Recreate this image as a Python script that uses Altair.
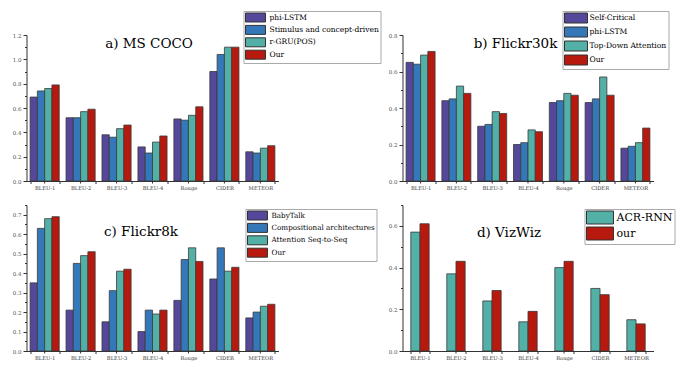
import altair as alt
import pandas as pd

metrics = ["BLEU-1", "BLEU-2", "BLEU-3", "BLEU-4", "Rouge", "CIDER", "METEOR"]

# a) MS COCO
coco_series = ["phi-LSTM", "Stimulus and concept-driven", "r-GRU(POS)", "Our"]
coco_phi = [0.69, 0.52, 0.38, 0.28, 0.51, 0.90, 0.24]
coco_stim = [0.74, 0.52, 0.36, 0.23, 0.50, 1.04, 0.23]
coco_rgru = [0.76, 0.57, 0.43, 0.32, 0.54, 1.10, 0.27]
coco_our = [0.79, 0.59, 0.46, 0.37, 0.61, 1.10, 0.29]

# b) Flickr30k
f30_series = ["Self-Critical", "phi-LSTM", "Top-Down Attention", "Our"]
f30_sc = [0.65, 0.44, 0.30, 0.20, 0.43, 0.43, 0.18]
f30_phi = [0.64, 0.45, 0.31, 0.21, 0.44, 0.45, 0.19]
f30_td = [0.69, 0.52, 0.38, 0.28, 0.48, 0.57, 0.21]
f30_our = [0.71, 0.48, 0.37, 0.27, 0.47, 0.47, 0.29]

# c) Flickr8k
f8_series = ["BabyTalk", "Compositional architectures", "Attention Seq-to-Seq", "Our"]
f8_baby = [0.35, 0.21, 0.15, 0.10, 0.26, 0.37, 0.17]
f8_comp = [0.63, 0.45, 0.31, 0.21, 0.47, 0.53, 0.20]
f8_att = [0.68, 0.49, 0.41, 0.19, 0.53, 0.41, 0.23]
f8_our = [0.69, 0.51, 0.42, 0.21, 0.46, 0.43, 0.24]

# d) VizWiz
viz_series = ["ACR-RNN", "our"]
viz_acr = [0.57, 0.37, 0.24, 0.14, 0.40, 0.30, 0.15]
viz_our = [0.61, 0.43, 0.29, 0.19, 0.43, 0.27, 0.13]

titles = ["a) MS COCO", "b) Flickr30k", "c) Flickr8k", "d) VizWiz"]

PURPLE, BLUE, TEAL, RED = "#55479a", "#3478b9", "#52b0a6", "#b8190f"
FONT = "DejaVu Serif"
H = 146


def long_df(series, columns):
    rows = []
    for name, vals in zip(series, columns):
        for m, v in zip(metrics, vals):
            rows.append({"metric": m, "series": name, "value": v})
    return pd.DataFrame(rows)


def panel(df, series, colors, ymax, major, minor, title, tx, ty,
          lx, ly, lfont, sym_path, sym_size, lab_off, row_pad,
          width, pi, po):
    n = int(round(ymax / minor))
    ticks = [round(i * minor, 3) for i in range(n + 1)]
    mj = int(round(major * 100))
    yaxis = alt.Axis(
        values=ticks,
        labelExpr=f"round(datum.value*100) % {mj} == 0 ? format(datum.value, '.1f') : ''",
        tickSize={"condition": {"test": f"round(datum.value*100) % {mj} != 0", "value": 2},
                  "value": 3.5},
        grid=False, title=None, domainColor="#333", tickColor="#333",
        labelFont=FONT, labelFontSize=5.5, labelColor="#555", labelPadding=2,
    )
    xscale = alt.Scale(paddingInner=pi, paddingOuter=po)
    bars = alt.Chart(df).mark_bar(stroke="#3a3a3a", strokeWidth=0.8).encode(
        x=alt.X("metric:N", sort=metrics, scale=xscale,
                axis=alt.Axis(labelAngle=0, tickBand="extent", tickSize=2.5,
                              domainColor="#333", tickColor="#333", title=None,
                              labelFont=FONT, labelFontSize=5.2, labelColor="#333",
                              labelPadding=2)),
        xOffset=alt.XOffset("series:N", sort=series,
                            scale=alt.Scale(paddingInner=0, paddingOuter=0)),
        y=alt.Y("value:Q", scale=alt.Scale(domain=[0, ymax], nice=False, zero=True),
                axis=yaxis),
        color=alt.Color("series:N", sort=series,
                        scale=alt.Scale(domain=series, range=colors),
                        legend=alt.Legend(
                            orient="none", legendX=lx, legendY=ly, title=None,
                            symbolType=sym_path, symbolSize=sym_size,
                            symbolStrokeColor="#333", symbolStrokeWidth=1,
                            symbolOpacity=1,
                            labelFont=FONT, labelFontSize=lfont, labelColor="black",
                            labelOffset=lab_off, rowPadding=row_pad, padding=1.5,
                            strokeColor="#aaa", fillColor="white", labelLimit=300)),
    )
    centers = alt.Chart(pd.DataFrame({"metric": metrics})).mark_rule(
        color="#333", strokeWidth=1).encode(
        x=alt.X("metric:N", sort=metrics, bandPosition=0.5),
        y=alt.value(H), y2=alt.value(H + 2.5),
    )
    head = alt.Chart(pd.DataFrame({"t": [title]})).mark_text(
        font=FONT, fontSize=13.5, color="black", align="center", baseline="middle"
    ).encode(text="t:N", x=alt.value(tx), y=alt.value(ty))
    return alt.layer(bars, centers, head).properties(width=width, height=H)


pa = panel(long_df(coco_series, [coco_phi, coco_stim, coco_rgru, coco_our]),
           coco_series, [PURPLE, BLUE, TEAL, RED], 1.2, 0.2, 0.1, titles[0],
           122.5, 9, 217, -24, 7.5, "M-1,-1H3.44V1H-1Z", 81, 14.5, -1.6,
           252, 0.19, 0.1)
pb = panel(long_df(f30_series, [f30_sc, f30_phi, f30_td, f30_our]),
           f30_series, [PURPLE, BLUE, TEAL, RED], 0.8, 0.2, 0.1, titles[1],
           113, 9, 160, -24, 7.6, "M-1,-1H3.6V1H-1Z", 100, 14.5, -1,
           251, 0.19, 0.1)
pc = panel(long_df(f8_series, [f8_baby, f8_comp, f8_att, f8_our]),
           f8_series, [PURPLE, BLUE, TEAL, RED], 0.75, 0.1, 0.05, titles[2],
           114.5, 27, 219, 4, 7.2, "M-1,-1H3.44V1H-1Z", 81, 14.5, -1.6,
           252, 0.19, 0.1)
pd_ = panel(long_df(viz_series, [viz_acr, viz_our]),
            viz_series, [TEAL, RED], 0.7, 0.2, 0.1, titles[3],
            106.5, 28, 182, 4, 11, "M-1,-1H3.15V1H-1Z", 169, 16.5, -6.6,
            251, 0.49, 0.23)

chart = alt.concat(pa, pb, pc, pd_, columns=2, bounds="flush",
                   spacing={"row": 24, "column": 124}).resolve_scale(
    color="independent", x="independent", y="independent", xOffset="independent"
).properties(
    padding={"left": 3.5, "top": 2, "right": 0, "bottom": 0},
    background="white",
).configure_view(stroke=None)

chart.save("out.html", embed_options={"renderer": "svg", "actions": False})
